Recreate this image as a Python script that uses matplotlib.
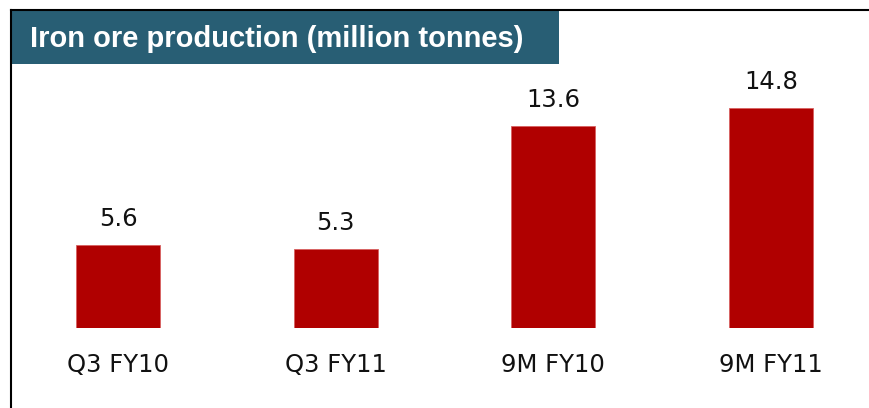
import matplotlib
matplotlib.use("Agg")
import matplotlib.pyplot as plt
from matplotlib.patches import Rectangle
from matplotlib.lines import Line2D

categories = ["Q3 FY10", "Q3 FY11", "9M FY10", "9M FY11"]
values = [5.6, 5.3, 13.6, 14.8]
value_labels = ["5.6", "5.3", "13.6", "14.8"]
title = "Iron ore production (million tonnes)"

W, H = 870, 408
fig = plt.figure(figsize=(W / 100, H / 100), dpi=100)

# axes: x centers at 118..771 px, baseline at 328 px from top
spacing = 217.7
left_px = 118 - 0.5 * spacing
ax_w_px = 3.95 * spacing
bottom_px = H - 328
top_px = H - 10
ax = fig.add_axes([left_px / W, bottom_px / H, ax_w_px / W, (top_px - bottom_px) / H])
ax.set_xlim(-0.5, 3.45)
ax.set_ylim(0, (top_px - bottom_px) / 14.87)
ax.axis("off")

x = list(range(len(categories)))
ax.bar(x, values, width=84 / spacing, color="#B00000", edgecolor="#D86060", linewidth=0.6)

for xi, v, lab in zip(x, values, value_labels):
    ax.annotate(lab, (xi, v), xytext=(0, 19 * 0.72), textcoords="offset points",
                ha="center", va="baseline", fontsize=17.5, family="DejaVu Sans", color="#111111")
for xi, c in zip(x, categories):
    ax.annotate(c, (xi, 0), xytext=(0, -44 * 0.72), textcoords="offset points",
                ha="center", va="baseline", fontsize=17.5, family="DejaVu Sans", color="#111111")

# frame lines (left and top)
fig.add_artist(Line2D([11 / W, 11 / W], [0, 1 - 9.5 / H], color="black", linewidth=1.5, transform=fig.transFigure))
fig.add_artist(Line2D([11 / W, 1], [1 - 9.5 / H, 1 - 9.5 / H], color="black", linewidth=1.5, transform=fig.transFigure))

# title box
fig.add_artist(Rectangle((12 / W, 1 - 64 / H), (559 - 12) / W, (64 - 10.5) / H,
                         transform=fig.transFigure, facecolor="#285E74", edgecolor="none"))
fig.text(30 / W, 1 - 47 / H, title, ha="left", va="baseline", fontsize=21,
         fontweight="bold", family="Liberation Sans", color="white")

fig.savefig("out.png", dpi=100)
